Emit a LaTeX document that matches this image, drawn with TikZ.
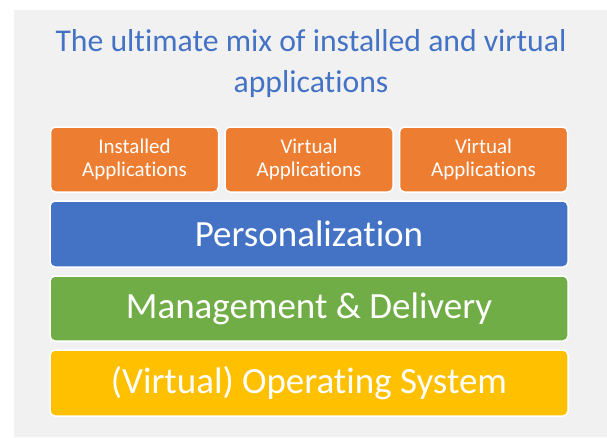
\documentclass[tikz,border=0pt]{standalone}
\usepackage{fontspec}
\setmainfont[Ligatures=NoCommon]{Carlito}
\definecolor{bggray}{HTML}{F1F1F1}
\definecolor{orng}{HTML}{ED7D31}
\definecolor{blu}{HTML}{4472C4}
\definecolor{grn}{HTML}{70AD47}
\definecolor{yel}{HTML}{FFC000}
\tikzset{
  layer/.style={draw=white, line width=1.5pt, rounded corners=5pt, inner sep=0pt,
    text=white, align=center, font=\fontsize{37}{44}\selectfont},
  appbox/.style={layer, fill=orng, minimum width=168pt, minimum height=65pt,
    font=\fontsize{21}{23}\selectfont},
  titletext/.style={text=blu, font=\fontsize{31.7}{38}\selectfont, anchor=base, inner sep=0pt}
}
\begin{document}
\begin{tikzpicture}[x=1pt,y=-1pt]
\useasboundingbox (0,0) rectangle (607,437);
\fill[white] (0,0) rectangle (607,437);
\fill[bggray] (14,10) rectangle (607,437);
\node[titletext] (t1) at (311,51) {The ultimate mix of installed and virtual};
\node[titletext] (t2) at (311,92) {applications};
\node[appbox] (a1) at (134.5,159.5) {Installed\\Applications};
\node[appbox] (a2) at (309,159.5) {Virtual\\Applications};
\node[appbox] (a3) at (483.5,159.5) {Virtual\\Applications};
\node[layer, fill=blu, minimum width=518pt, minimum height=66pt] (p) at (309,234) {Personalization};
\node[layer, fill=grn, minimum width=518pt, minimum height=65pt] (m) at (309,308.5) {Management \& Delivery};
\node[layer, fill=yel, minimum width=518pt, minimum height=66pt] (o) at (309,383) {(Virtual) Operating System};
\end{tikzpicture}
\end{document}
